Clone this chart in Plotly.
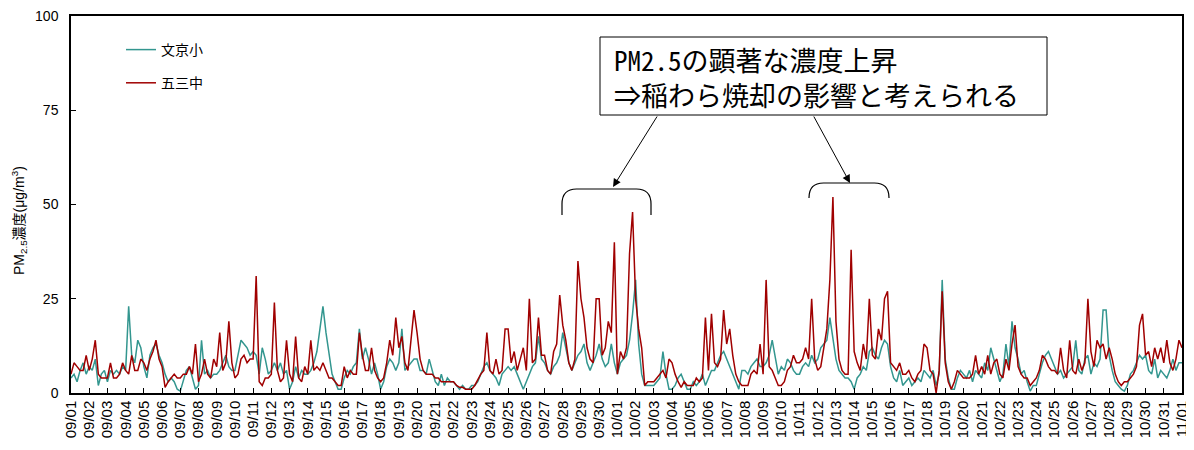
import plotly.graph_objects as go

# 4-hourly readings (6 per day), 2013-09-01 00:00 .. 2013-11-01 00:00
bunkyo = [
    4, 5, 3, 6, 8, 5,   7, 6, 9, 2, 5, 6,   3, 6, 5, 6, 5, 7,   6, 23, 10, 8, 14, 12,
    7, 4, 10, 12, 13, 10,   8, 5, 3, 4, 3, 1,   0.5, 3, 6, 7, 4, 1,   2, 14, 5, 6, 4, 5,
    5, 6, 8, 10, 7, 6,   6, 10, 14, 13, 12, 10,   11, 10, 5, 12, 9, 5,   6, 8, 6, 8, 5, 6,
    1, 3, 7, 4, 6, 5,   5, 6, 8, 11, 17, 23,   16, 10, 5, 3, 1, 1,   4, 6, 5, 7, 8, 17,
    9, 12, 9, 5, 8, 5,   1, 3, 7, 9, 8, 6,   8, 17, 6, 7, 8, 9,   9, 6, 6, 5, 9, 6,
    3, 2, 5, 2, 4, 3,   3, 2, 1, 2, 1, 1,   2, 2, 3, 5, 7, 8,   6, 5, 4, 2, 5, 6,
    7, 6, 7, 5, 3, 1,   3, 5, 7, 8, 15, 9,   8, 6, 5, 7, 8, 10,   16, 12, 8, 6, 8, 10,
    11, 13, 8, 6, 8, 10,   13, 9, 7, 8, 13, 8,   5, 8, 9, 10, 14, 21,   30, 13, 5, 2, 2, 2,
    2, 3, 4, 11, 5, 1,   1, 2, 4, 5, 3, 1,   1, 3, 2, 3, 5, 2,   4, 6, 6, 8, 10, 11,
    9, 7, 5, 3, 1, 6,   6, 5, 7, 8, 9, 7,   7, 8, 10, 14, 9, 5,   7, 6, 9, 8, 6, 5,
    5, 7, 8, 7, 10, 8,   9, 12, 13, 14, 20, 15,   9, 6, 5, 4, 4, 3,   1, 4, 5, 7, 6, 11,
    12, 10, 9, 12, 14, 13,   7, 4, 3, 6, 2, 3,   4, 2, 3, 4, 3, 6,   5, 4, 6, 2, 5, 30,
    9, 4, 1, 1, 4, 6,   5, 4, 6, 3, 6, 5,   4, 8, 6, 12, 9, 6,   3, 5, 13, 7, 19, 12,
    9, 5, 6, 3, 0.5, 2,   2, 5, 8, 10, 11, 9,   7, 5, 6, 4, 5, 6,   7, 14, 6, 5, 9, 10,
    5, 8, 7, 9, 22, 22,   10, 6, 3, 2, 1, 0.5,   2, 5, 6, 8, 10, 9,   10, 6, 5, 9, 4, 6,
    5, 4, 6, 9, 6, 8,   8,
]

gosanchu = [
    5, 8, 7, 6, 6, 10,   6, 9, 14, 5, 4, 4,   4, 8, 4, 4, 5, 8,   6, 5, 10, 6, 6, 9,
    8, 6, 9, 11, 14, 9,   7, 1.5, 3, 4, 5, 4,   4, 5, 5, 7, 5, 13,   3, 5, 9, 5, 4, 9,
    7, 16, 6, 8, 19, 8,   4, 5, 9, 10, 8, 9,   9, 31, 3, 2, 4, 4,   5, 24, 6, 3, 4, 14,
    5, 3, 15, 4, 3, 7,   5, 14, 6, 7, 6, 8,   6, 4, 4, 3, 2, 2,   7, 4, 6, 5, 5, 16,
    10, 6, 6, 12, 6, 4,   3, 4, 8, 14, 10, 20,   12, 15, 8, 6, 14, 22,   16, 9, 6, 5, 5, 5,
    4, 4, 3, 3, 3, 3,   3, 2, 1.5, 1.5, 1, 1,   1, 2, 3.5, 5, 6, 16,   6, 5, 9, 5, 6, 17,
    17, 8, 11, 6, 9, 12,   6, 25, 8, 9, 20, 10,   10, 6, 5, 11, 13, 26,   18, 14, 8, 6, 9, 35,
    25, 20, 12, 9, 8, 25,   25, 10, 12, 19, 16, 40,   5, 11, 9, 12, 37, 48,   25, 17, 12, 2, 3, 3,
    3, 4, 5, 6, 4, 9,   8, 5, 3, 1.5, 3, 2,   2, 2, 4, 3, 4, 20,   6, 21, 8, 7, 9, 22,
    13, 17, 10, 5, 3, 2,   2, 2, 5, 6, 5, 13,   5, 30, 7, 6, 4, 2,   2, 3, 6, 7, 10, 8,
    8, 9, 12, 9, 25, 9,   6, 7, 12, 17, 30, 52,   19, 9, 6, 5, 5, 38,   11, 8, 6, 13, 9, 25,
    10, 9, 17, 14, 25, 27,   8, 7, 6, 8, 5, 5,   6, 4, 3, 5, 6, 13,   12, 6, 5, 0, 6, 27,
    8, 3, 1, 3, 6, 5,   4, 4, 4, 5, 10, 5,   7, 5, 10, 5, 8, 9,   5, 4, 9, 6, 13, 18,
    7, 5, 4, 4, 2, 3,   4, 6, 10, 9, 7, 6,   6, 5, 12, 6, 4, 14,   6, 5, 9, 6, 8, 25,
    11, 7, 14, 12, 13, 9,   12, 9, 5, 3, 2, 3,   3, 4, 5, 7, 18, 21,   10, 11, 7, 12, 9, 12,
    8, 14, 8, 6, 9, 14,   12,
]

tick_labels = ([f"09/{d:02d}" for d in range(1, 31)]
               + [f"10/{d:02d}" for d in range(1, 32)]
               + ["11/01"])
y_ticks = [0, 25, 50, 75, 100]

series_names = ["文京小", "五三中"]
colors = ["#33968F", "#A00000"]

# x in days since 09/01 00:00 (6 readings per day)
x_days = [i / 6 for i in range(len(bunkyo))]

fig = go.Figure()
for name, vals, col, grp in [(series_names[0], bunkyo, colors[0], "a"),
                             (series_names[1], gosanchu, colors[1], "b")]:
    fig.add_trace(go.Scatter(x=x_days, y=vals, mode="lines", name=name,
                             legendgroup=grp,
                             line=dict(color=col, width=1.5)))

# page has an 8px body margin; figure is sized to fill the rest of the window
OFF = 8
W, H = 1194 - OFF, 450 - OFF
# plot area in page pixels
PL, PR, PT, PB = 71, 1182, 16, 393
pw, ph = PR - PL, PB - PT

def px2x(px):
    return (px - PL) / pw * 61

def px2y(py):
    return (PB - py) / ph * 100

def pap_x(px):
    return (px - PL) / pw

def pap_y(py):
    return (PB - py) / ph

fig.update_layout(
    width=W, height=H,
    margin=dict(l=PL - OFF, r=W - (PR - OFF), t=PT - OFF, b=H - (PB - OFF),
                autoexpand=False),
    paper_bgcolor="white", plot_bgcolor="white",
    font=dict(family="Liberation Sans, Arial, sans-serif", size=14, color="black"),
    showlegend=True,
    legend=dict(x=pap_x(121), y=pap_y(34), xanchor="left", yanchor="top",
                bgcolor="rgba(0,0,0,0)", tracegroupgap=12,
                font=dict(family="Noto Sans CJK JP", size=14)),
    xaxis=dict(range=[0, 61], tickmode="array", automargin=False,
               ticklabeloverflow="allow",
               tickvals=list(range(len(tick_labels))), ticktext=tick_labels,
               tickangle=-90, ticks="inside", ticklen=5, tickcolor="black",
               showline=True, linecolor="black", linewidth=1.5, mirror=True,
               showgrid=False, zeroline=False, tickfont=dict(size=15)),
    yaxis=dict(range=[0, 100], tickmode="array", tickvals=y_ticks, automargin=False,
               ticklabeloverflow="allow",
               ticks="inside", ticklen=5, tickcolor="black",
               showline=True, linecolor="black", linewidth=1.5, mirror=True,
               showgrid=False, zeroline=False, ticklabelstandoff=8,
               tickfont=dict(size=14)),
)

# y-axis title
fig.add_annotation(xref="paper", yref="paper",
                   x=pap_x(19), y=pap_y(221), xanchor="center", yanchor="middle",
                   text="PM<sub>2.5</sub>濃度(μg/m<sup>3</sup>)", textangle=-90,
                   showarrow=False,
                   font=dict(family="Liberation Sans, Noto Sans CJK JP", size=14))

# callout box
fig.add_shape(type="rect", xref="paper", yref="paper",
              x0=pap_x(600), x1=pap_x(1047), y0=pap_y(115), y1=pap_y(37),
              line=dict(color="black", width=1), fillcolor="white")
fig.add_annotation(xref="paper", yref="paper",
                   x=pap_x(612), y=pap_y(77),
                   xanchor="left", yanchor="middle", align="left",
                   text="PM2.5の顕著な濃度上昇<br>⇒稲わら焼却の影響と考えられる",
                   showarrow=False,
                   font=dict(family="Noto Sans Mono CJK JP, Noto Sans CJK JP", size=27))

# arrows
for tail, head in [((658, 115), (613, 187)), ((813, 115), (850, 183))]:
    fig.add_annotation(xref="x", yref="y", axref="x", ayref="y",
                       x=px2x(head[0]), y=px2y(head[1]),
                       ax=px2x(tail[0]), ay=px2y(tail[1]),
                       text="", showarrow=True, arrowhead=2, arrowsize=1.6,
                       arrowwidth=1, arrowcolor="black")

# brackets
def bracket(x0, x1, ytop, yend, r, c):
    return (f"M {x0},{yend} L {x0},{ytop - c} Q {x0},{ytop} {x0 + r},{ytop} "
            f"L {x1 - r},{ytop} Q {x1},{ytop} {x1},{ytop - c} L {x1},{yend}")

fig.add_shape(type="path", xref="x", yref="y",
              path=bracket(px2x(562), px2x(651), px2y(189), px2y(215), 0.8, 4),
              line=dict(color="black", width=1.2))
fig.add_shape(type="path", xref="x", yref="y",
              path=bracket(px2x(809), px2x(889), px2y(183), px2y(198), 0.8, 3.9),
              line=dict(color="black", width=1.2))

fig.write_html("out.html")
